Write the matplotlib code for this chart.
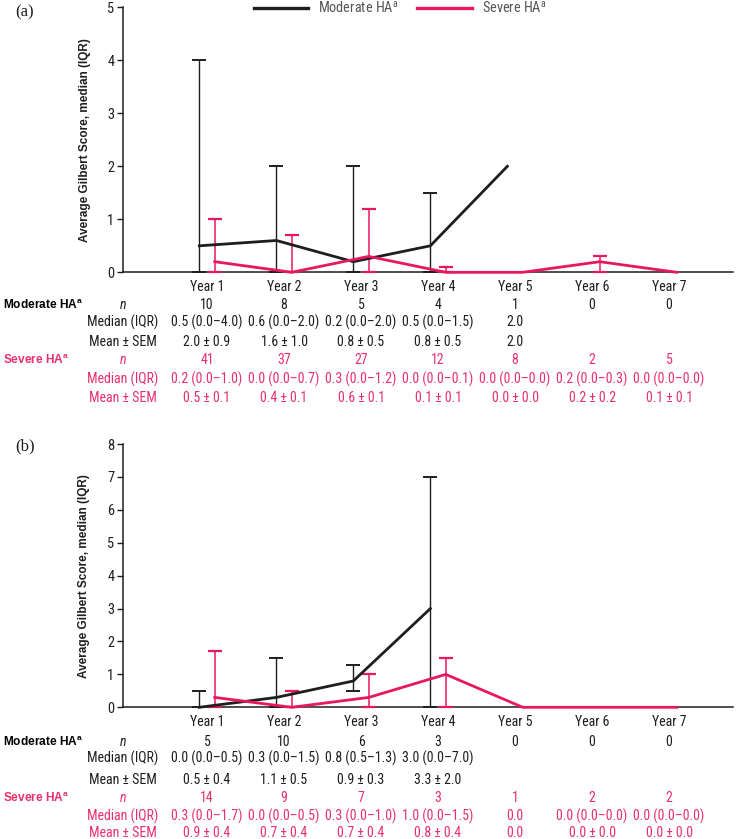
import matplotlib
matplotlib.use('Agg')
import matplotlib.pyplot as plt
from matplotlib import font_manager
from matplotlib.lines import Line2D
from matplotlib.transforms import blended_transform_factory
import numpy as np

## Data ##
years = ['Year 1', 'Year 2', 'Year 3', 'Year 4', 'Year 5', 'Year 6', 'Year 7']

# panel (a)
a_mod_median = [0.5, 0.6, 0.2, 0.5, 2.0]
a_mod_q1 = [0.0, 0.0, 0.0, 0.0, 2.0]
a_mod_q3 = [4.0, 2.0, 2.0, 1.5, 2.0]
a_sev_median = [0.2, 0.0, 0.3, 0.0, 0.0, 0.2, 0.0]
a_sev_q1 = [0.0, 0.0, 0.0, 0.0, 0.0, 0.0, 0.0]
a_sev_q3 = [1.0, 0.7, 1.2, 0.1, 0.0, 0.3, 0.0]

a_mod_n = ['10', '8', '5', '4', '1', '0', '0']
a_mod_med_txt = ['0.5 (0.0–4.0)', '0.6 (0.0–2.0)', '0.2 (0.0–2.0)', '0.5 (0.0–1.5)', '2.0', '', '']
a_mod_mean_txt = ['2.0 ± 0.9', '1.6 ± 1.0', '0.8 ± 0.5', '0.8 ± 0.5', '2.0', '', '']
a_sev_n = ['41', '37', '27', '12', '8', '2', '5']
a_sev_med_txt = ['0.2 (0.0–1.0)', '0.0 (0.0–0.7)', '0.3 (0.0–1.2)', '0.0 (0.0–0.1)',
                 '0.0 (0.0–0.0)', '0.2 (0.0–0.3)', '0.0 (0.0–0.0)']
a_sev_mean_txt = ['0.5 ± 0.1', '0.4 ± 0.1', '0.6 ± 0.1', '0.1 ± 0.1', '0.0 ± 0.0', '0.2 ± 0.2', '0.1 ± 0.1']

# panel (b)
b_mod_median = [0.0, 0.3, 0.8, 3.0]
b_mod_q1 = [0.0, 0.0, 0.5, 0.0]
b_mod_q3 = [0.5, 1.5, 1.3, 7.0]
b_sev_median = [0.3, 0.0, 0.3, 1.0, 0.0, 0.0, 0.0]
b_sev_q1 = [0.0, 0.0, 0.0, 0.0, 0.0, 0.0, 0.0]
b_sev_q3 = [1.7, 0.5, 1.0, 1.5, 0.0, 0.0, 0.0]

b_mod_n = ['5', '10', '6', '3', '0', '0', '0']
b_mod_med_txt = ['0.0 (0.0–0.5)', '0.3 (0.0–1.5)', '0.8 (0.5–1.3)', '3.0 (0.0–7.0)', '', '', '']
b_mod_mean_txt = ['0.5 ± 0.4', '1.1 ± 0.5', '0.9 ± 0.3', '3.3 ± 2.0', '', '', '']
b_sev_n = ['14', '9', '7', '3', '1', '2', '2']
b_sev_med_txt = ['0.3 (0.0–1.7)', '0.0 (0.0–0.5)', '0.3 (0.0–1.0)', '1.0 (0.0–1.5)',
                 '0.0', '0.0 (0.0–0.0)', '0.0 (0.0–0.0)']
b_sev_mean_txt = ['0.9 ± 0.4', '0.7 ± 0.4', '0.7 ± 0.4', '0.8 ± 0.4', '0.0', '0.0 ± 0.0', '0.0 ± 0.0']

## Styling ##
names = {f.name for f in font_manager.fontManager.ttflist}
narrow = 'Liberation Sans'
TS = 8.1  # table font size (reference uses a condensed face)
for cand, size in [('Liberation Sans Narrow', 9.8), ('Arial Narrow', 9.8),
                   ('Roboto Condensed', 10.0), ('Open Sans Condensed', 9.3)]:
    if cand in names:
        narrow, TS = cand, size
        break
plt.rcParams['font.family'] = [narrow, 'DejaVu Sans']

BLACK = '#1e1e1e'
PINK = '#e8185c'
PINK_TXT = '#e8306a'
W, H = 736, 839
OFF = 0.1  # horizontal offset of the two series

fig = plt.figure(figsize=(W / 100, H / 100), dpi=100)


def px_box(left, right, top, bottom):
    return [left / W, 1 - bottom / H, (right - left) / W, (bottom - top) / H]


def draw_panel(ax, ymax, mod_med, mod_q1, mod_q3, sev_med, sev_q1, sev_q3):
    x = np.arange(len(years))
    xm = x[:len(mod_med)] - OFF
    xs = x[:len(sev_med)] + OFF
    mm, m1, m3 = map(np.array, (mod_med, mod_q1, mod_q3))
    sm, s1, s3 = map(np.array, (sev_med, sev_q1, sev_q3))
    keep = m3 > m1
    ax.errorbar(xm[keep], mm[keep], yerr=[mm[keep] - m1[keep], m3[keep] - mm[keep]],
                fmt='none', ecolor=BLACK, elinewidth=1.0, capsize=4.8, capthick=1.4,
                clip_on=False, zorder=3)
    keep = s3 > s1
    ax.errorbar(xs[keep], sm[keep], yerr=[sm[keep] - s1[keep], s3[keep] - sm[keep]],
                fmt='none', ecolor=PINK, elinewidth=1.1, capsize=4.8, capthick=1.6,
                clip_on=False, zorder=3)
    ax.plot(xm, mm, color=BLACK, lw=2.0, clip_on=False, zorder=4,
            solid_joinstyle='miter')
    ax.plot(xs, sm, color=PINK, lw=2.0, clip_on=False, zorder=5,
            solid_joinstyle='miter')

    ax.set_xlim(-1.095, 6.83)
    ax.set_ylim(0, ymax)
    ax.set_yticks(range(ymax + 1))
    ax.set_xticks([])
    for s in ['top', 'right']:
        ax.spines[s].set_visible(False)
    for s in ['left', 'bottom']:
        ax.spines[s].set_linewidth(1.1)
        ax.spines[s].set_color(BLACK)
    ax.tick_params(axis='y', length=4, width=1, labelsize=TS + 0.4, pad=2, colors=BLACK)
    ax.set_ylabel('Average Gilbert Score, median (IQR)', family='Liberation Sans',
                  fontweight='bold', fontsize=8.5, labelpad=12, color=BLACK)


def draw_table(ax, rows_y, mod_rows, sev_rows):
    tr = blended_transform_factory(ax.transData, fig.transFigure)
    xl = ax.get_xlim()[0]
    fy = lambda p: 1 - p / H
    for i, yr in enumerate(years):
        ax.text(i, fy(rows_y[0]), yr, transform=tr, ha='center', va='center',
                fontsize=TS, color=BLACK)
    labels = ['n', 'Median (IQR)', 'Mean ± SEM']
    for k, (head, rows, col) in enumerate([('Moderate HA', mod_rows, BLACK),
                                            ('Severe HA', sev_rows, PINK_TXT)]):
        y0 = 1 + 3 * k
        fig.text(3 / W, fy(rows_y[y0]), head + r'$^{\mathregular{a}}$',
                 family='Liberation Sans', fontweight='bold', fontsize=8.6,
                 color=col if k else 'black', ha='left', va='center')
        for r in range(3):
            yy = fy(rows_y[y0 + r])
            ax.text(xl, yy, labels[r], transform=tr, ha='center', va='center',
                    fontsize=TS, color=col, style='italic' if r == 0 else 'normal')
            for i, t in enumerate(rows[r]):
                ax.text(i, yy, t, transform=tr, ha='center', va='center',
                        fontsize=TS, color=col)


## Panel (a) ##
ax_a = fig.add_axes(px_box(122.7, 733, 7.3, 272.3))
draw_panel(ax_a, 5, a_mod_median, a_mod_q1, a_mod_q3,
           a_sev_median, a_sev_q1, a_sev_q3)
draw_table(ax_a, [287, 305, 322, 342, 360, 379, 398],
           [a_mod_n, a_mod_med_txt, a_mod_mean_txt],
           [a_sev_n, a_sev_med_txt, a_sev_mean_txt])
fig.text(25 / W, 1 - 12 / H, '(a)', family='Liberation Serif', fontsize=12,
         ha='center', va='center', color=BLACK)

handles = [Line2D([], [], color=BLACK, lw=2.4), Line2D([], [], color=PINK, lw=2.4)]
fig.legend(handles, ['Moderate HA$^{\\mathregular{a}}$', 'Severe HA$^{\\mathregular{a}}$'],
           loc='center', bbox_to_anchor=(400 / W, 1 - 8 / H), ncol=2, frameon=False,
           handlelength=3.8, handletextpad=0.7, columnspacing=1.3, fontsize=TS + 0.3,
           labelcolor='#555555', borderpad=0)

## Panel (b) ##
ax_b = fig.add_axes(px_box(122.7, 733, 444, 707.3))
draw_panel(ax_b, 8, b_mod_median, b_mod_q1, b_mod_q3,
           b_sev_median, b_sev_q1, b_sev_q3)
draw_table(ax_b, [722, 742, 758, 780, 798, 816, 833],
           [b_mod_n, b_mod_med_txt, b_mod_mean_txt],
           [b_sev_n, b_sev_med_txt, b_sev_mean_txt])
fig.text(25 / W, 1 - 446 / H, '(b)', family='Liberation Serif', fontsize=12,
         ha='center', va='center', color=BLACK)

fig.savefig('out.png', dpi=100)
